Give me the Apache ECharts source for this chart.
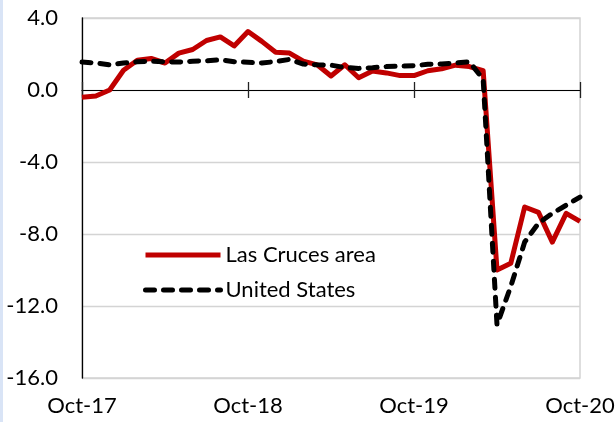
<!DOCTYPE html>
<html>
<head>
<meta charset="utf-8">
<script src="https://cdn.jsdelivr.net/npm/echarts@6/dist/echarts.min.js"></script>
<style>
html,body{margin:0;padding:0;background:#fff;}
#chart{width:616px;height:422px;}
</style>
</head>
<body>
<div id="chart"></div>
<script>
const months = [
  'Oct-17','Nov-17','Dec-17','Jan-18','Feb-18','Mar-18','Apr-18','May-18','Jun-18','Jul-18','Aug-18','Sep-18',
  'Oct-18','Nov-18','Dec-18','Jan-19','Feb-19','Mar-19','Apr-19','May-19','Jun-19','Jul-19','Aug-19','Sep-19',
  'Oct-19','Nov-19','Dec-19','Jan-20','Feb-20','Mar-20','Apr-20','May-20','Jun-20','Jul-20','Aug-20','Sep-20',
  'Oct-20'
];
const lasCruces = [
  -0.40, -0.33, 0.00, 1.10, 1.65, 1.75, 1.50, 2.05, 2.25, 2.75, 2.95, 2.45,
  3.25, 2.70, 2.10, 2.05, 1.60, 1.40, 0.78, 1.40, 0.68, 1.05, 0.95, 0.80,
  0.80, 1.07, 1.18, 1.38, 1.30, 1.08, -10.00, -9.62, -6.50, -6.80, -8.45, -6.85,
  -7.30
];
const unitedStates = [
  1.55, 1.50, 1.40, 1.50, 1.57, 1.60, 1.57, 1.55, 1.60, 1.62, 1.68, 1.57,
  1.54, 1.50, 1.58, 1.70, 1.44, 1.40, 1.38, 1.25, 1.20, 1.24, 1.30, 1.32,
  1.35, 1.43, 1.45, 1.50, 1.57, 0.60, -13.05, -10.90, -8.45, -7.40, -6.85, -6.40,
  -5.95
];
const seriesNames = ['Las Cruces area', 'United States'];
const yMin = -16, yMax = 4, yStep = 4;

const FONT = 'Lato';
const chart = echarts.init(document.getElementById('chart'), null, {renderer: 'canvas'});
const zeroAxisBase = {
  type: 'category', data: months, boundaryGap: false,
  axisLabel: {show: false}, splitLine: {show: false}
};
chart.setOption({
  animation: false,
  backgroundColor: '#ffffff',
  graphic: [{type: 'rect', left: 0, top: 0, shape: {x: 0, y: 0, width: 3, height: 422}, style: {fill: '#d9e4f6'}, silent: true}],
  grid: {left: 82, right: 36, top: 18, bottom: 44, show: true, borderColor: '#d4d4d4', borderWidth: 1.5, outerBoundsMode: 'none'},
  legend: {
    orient: 'vertical', left: 143, top: 244, padding: 0,
    itemWidth: 75, itemHeight: 14, itemGap: 13,
    itemStyle: {opacity: 0},
    lineStyle: {width: 5},
    textStyle: {fontFamily: FONT, fontSize: 22, color: '#000', lineHeight: 22},
    data: seriesNames
  },
  xAxis: [
    {
      type: 'category', data: months, boundaryGap: false, position: 'bottom',
      axisLine: {show: false, onZero: false},
      axisTick: {show: false},
      axisLabel: {interval: 11, margin: 17, fontFamily: FONT, fontSize: 22, color: '#000'},
      splitLine: {show: false}
    },
    Object.assign({}, zeroAxisBase, {
      position: 'bottom',
      axisLine: {show: true, onZero: true, onZeroAxisIndex: 0, lineStyle: {color: '#000', width: 1.2}},
      axisTick: {show: true, interval: 11, length: 8, lineStyle: {color: '#222', width: 1.3}}
    }),
    Object.assign({}, zeroAxisBase, {
      position: 'top',
      axisLine: {show: false, onZero: true, onZeroAxisIndex: 0},
      axisTick: {show: true, interval: 11, length: 8, lineStyle: {color: '#222', width: 1.3}}
    })
  ],
  yAxis: {
    type: 'value', min: yMin, max: yMax, interval: yStep,
    axisLine: {show: true, lineStyle: {color: '#000', width: 1.3}},
    axisTick: {show: false},
    axisLabel: {margin: 24, fontFamily: FONT, fontSize: 22, color: '#000', formatter: v => v.toFixed(1)},
    splitLine: {show: true, lineStyle: {color: '#d4d4d4', width: 1.3}}
  },
  series: [
    {
      name: seriesNames[0], type: 'line', data: lasCruces, xAxisIndex: 0,
      symbol: 'none', smooth: false, z: 3,
      lineStyle: {color: '#c00000', width: 5, join: 'round'},
      itemStyle: {color: '#c00000'}
    },
    {
      name: seriesNames[1], type: 'line', data: unitedStates, xAxisIndex: 0,
      symbol: 'none', smooth: false, z: 4,
      lineStyle: {color: '#000', width: 5, type: [9, 9], cap: 'round', join: 'round'},
      itemStyle: {color: '#000'}
    }
  ]
});
</script>
</body>
</html>
